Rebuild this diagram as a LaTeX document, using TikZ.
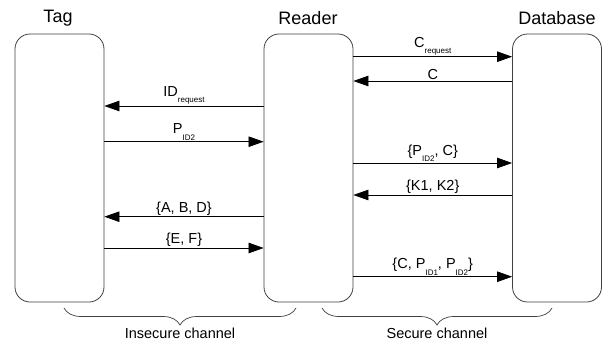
\documentclass[tikz,border=0pt]{standalone}
\usepackage{fontspec}
\setmainfont{Liberation Sans}
\usetikzlibrary{arrows.meta,decorations.pathreplacing}
\newcommand{\lo}[1]{\raisebox{-0.45em}{\fontsize{8}{9}\selectfont #1}}
\tikzset{
  lane/.style={draw=black!75, line width=0.8pt, rounded corners=15pt,
    minimum width=89pt, minimum height=268pt},
  title/.style={font=\fontsize{18}{21}\selectfont},
  msg/.style={line width=0.7pt, -{Triangle[length=15pt,width=10.5pt]}},
  lbl/.style={midway, above, inner sep=1pt, font=\fontsize{14.5}{17}\selectfont},
  chan/.style={draw=black!75, line width=0.7pt, decorate,
    decoration={brace, mirror, amplitude=17pt}},
}
\begin{document}
\begin{tikzpicture}[x=1pt,y=-1pt]
\useasboundingbox (0,0) rectangle (613,343);
% the three parties
\node[lane] (tag) at (59.5,168) {};
\node[lane] (reader) at (308.5,168) {};
\node[lane] (db) at (557,168) {};
\node[title] (tagname) at (58,18) {Tag};
\node[title] (readername) at (308,18) {Reader};
\node[title] (dbname) at (557,18) {Database};
% insecure channel
\draw[msg] (reader.west |- 0,106) -- (tag.east |- 0,106) node[lbl] {ID\lo{request}};
\draw[msg] (tag.east |- 0,141.7) -- (reader.west |- 0,141.7) node[lbl] {P\lo{ID2}};
\draw[msg] (reader.west |- 0,216.7) -- (tag.east |- 0,216.7) node[lbl] {\{A, B, D\}};
\draw[msg] (tag.east |- 0,248) -- (reader.west |- 0,248) node[lbl] {\{E, F\}};
% secure channel
\draw[msg] (reader.east |- 0,56.7) -- (db.west |- 0,56.7) node[lbl] {C\lo{request}};
\draw[msg] (db.west |- 0,81) -- (reader.east |- 0,81) node[lbl] {C};
\draw[msg] (reader.east |- 0,163) -- (db.west |- 0,163) node[lbl] {\{P\lo{ID2}, C\}};
\draw[msg] (db.west |- 0,195) -- (reader.east |- 0,195) node[lbl] {\{K1, K2\}};
\draw[msg] (reader.east |- 0,276.7) -- (db.west |- 0,276.7) node[lbl] {\{C, P\lo{ID1}, P\lo{ID2}\}};
% braces
\coordinate (insL) at (64,308);
\coordinate (insR) at (296,308);
\coordinate (secL) at (322,308);
\coordinate (secR) at (552,308);
\draw[chan] (insL) -- (insR) node[midway, below=16pt, font=\fontsize{14.5}{17}\selectfont] (ins) {Insecure channel};
\draw[chan] (secL) -- (secR) node[midway, below=16pt, font=\fontsize{14.5}{17}\selectfont] (sec) {Secure channel};
\end{tikzpicture}
\end{document}
